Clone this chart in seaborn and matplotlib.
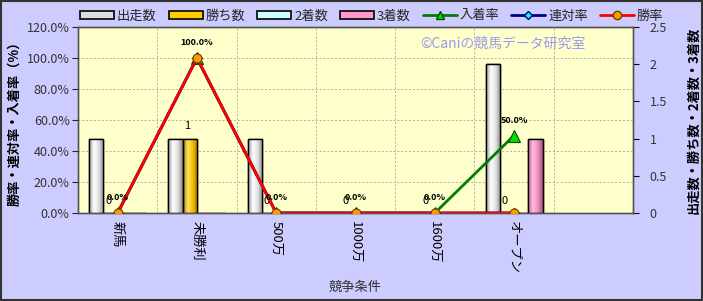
import numpy as np
import pandas as pd
import matplotlib
matplotlib.use("Agg")
import matplotlib.pyplot as plt
import seaborn as sns
from matplotlib.patches import Rectangle
from matplotlib.lines import Line2D
from matplotlib.colors import LinearSegmentedColormap

# ---- data ----
categories = ["新馬", "未勝利", "500万", "1000万", "1600万", "オープン"]
starts = [1, 1, 1, 0, 0, 2]        # 出走数
wins = [0, 1, 0, 0, 0, 0]          # 勝ち数
seconds = [0, 0, 0, 0, 0, 0]       # 2着数
thirds = [0, 0, 0, 0, 0, 1]        # 3着数
place_rate = [0, 100, 0, 0, 0, 50]     # 入着率
rentai_rate = [0, 100, 0, 0, 0, 0]     # 連対率
win_rate = [0, 100, 0, 0, 0, 0]        # 勝率
rate_labels = ["0.0%", "100.0%", "0.0%", "0.0%", "0.0%", "50.0%"]
count_labels = ["0", "1", "0", "0", "0", "0"]

count_series = ["出走数", "勝ち数", "2着数", "3着数"]
bar_colors = {"出走数": "#F4F4F4", "勝ち数": "#FFCC00", "2着数": "#CCFFFF", "3着数": "#FF99CC"}
grad = {"出走数": ["#9A9A9A", "#FFFFFF", "#E0E0E0", "#8A8A8A"],
        "勝ち数": ["#B08800", "#FFE060", "#F0C000", "#A07800"],
        "2着数": ["#80B0B0", "#FFFFFF", "#C8F8F8", "#70A0A0"],
        "3着数": ["#C06090", "#FFC0E0", "#F090C0", "#B05080"]}

sns.set_theme(style="white")
plt.rcParams["font.family"] = ["Noto Sans CJK JP", "DejaVu Sans"]

fig = plt.figure(figsize=(7.03, 3.01), dpi=100, facecolor="#CCCCFF")
ax = fig.add_axes([78/703, 1-213/301, (633-78)/703, (213-27)/301])
ax.set_facecolor("#FFFFCC")
ax2 = ax.twinx()
ax2.set_facecolor("none")

df = pd.DataFrame({
    "cat": categories * 4,
    "series": sum([[s]*len(categories) for s in count_series], []),
    "val": starts + wins + seconds + thirds,
})
sns.barplot(data=df, x="cat", y="val", hue="series", order=categories,
            hue_order=count_series, palette=bar_colors, width=0.72,
            edgecolor="black", linewidth=1.0, ax=ax, legend=False, zorder=3)

# gradient fill for cylinders
for s, container in zip(count_series, ax.containers):
    cmap = LinearSegmentedColormap.from_list(s, grad[s])
    for p in container.patches:
        h = p.get_height()
        if h <= 0:
            continue
        x0, w = p.get_x(), p.get_width()
        img = ax.imshow(np.linspace(0, 1, 64).reshape(1, -1), cmap=cmap, aspect="auto",
                        extent=[x0, x0 + w, 0, h], zorder=3.5, interpolation="bilinear")
        img.set_clip_path(p)
        r = Rectangle((x0, 0), w, h, fill=False, edgecolor="black", linewidth=1.0, zorder=3.6)
        ax.add_patch(r)

ax.set_xlim(-0.5, 6.5)
ax.set_ylim(0, 2.5)
ax.set_yticks([0, 0.5, 1, 1.5, 2, 2.5])
ax.set_yticklabels(["0", "0.5", "1", "1.5", "2", "2.5"])
ax.yaxis.tick_right()
ax.yaxis.set_label_position("right")
ax.set_ylabel("出走数・勝ち数・2着数・3着数", fontsize=9.5, fontweight="bold", labelpad=14, color="black")
ax.set_xticks(range(len(categories)))
ax.set_xticklabels(categories, rotation=-90, fontsize=9.5, color="black")
ax.set_xlabel("競争条件", fontsize=9.5, color="#333333", labelpad=5)
ax.tick_params(axis="y", left=False, right=True, labelleft=False, labelright=True,
               length=4, width=0.8, colors="black", labelsize=9, pad=8)
ax.tick_params(axis="x", length=0, pad=6)
for t in ax.get_yticklabels():
    t.set_color("#333333")

# count labels (勝ち数)
for i, (lbl, v) in enumerate(zip(count_labels, wins)):
    ax.annotate(lbl, (i - 0.12, v), xytext=(0, 9), textcoords="offset points",
                ha="center", va="center", fontsize=8, color="black", zorder=6)

# lines on twin axes
xpos = list(range(len(categories)))
sns.lineplot(x=xpos, y=place_rate, color="#008000", linewidth=2, marker="^", markersize=8,
             markerfacecolor="#00DD00", markeredgecolor="#005000", markeredgewidth=0.8, ax=ax2, zorder=4)
sns.lineplot(x=xpos, y=rentai_rate, color="#000080", linewidth=2, marker="D", markersize=5,
             markerfacecolor="#00FFFF", markeredgecolor="#000080", ax=ax2, zorder=5)
sns.lineplot(x=xpos, y=win_rate, color="#FF0000", linewidth=2, marker="o", markersize=6.5,
             markerfacecolor="#FF9900", markeredgecolor="#664400", markeredgewidth=0.8, ax=ax2, zorder=6)
ax2.set_ylim(0, 120)
ax2.set_xlim(-0.5, 6.5)
ax2.set_yticks(range(0, 121, 20))
ax2.set_yticklabels([f"{v:.1f}%" for v in range(0, 121, 20)])
ax2.yaxis.tick_left()
ax2.yaxis.set_label_position("left")
ax2.set_ylabel("勝率・連対率・入着率（%）", fontsize=9.5, fontweight="bold", labelpad=4, color="black")
ax2.tick_params(axis="y", left=True, right=False, labelleft=True, labelright=False,
                length=4, width=0.8, labelsize=9, pad=2)
for t in ax2.get_yticklabels():
    t.set_color("#333333")

# grid on main axes
for yv in range(20, 121, 20):
    ax.axhline(yv / 120 * 2.5, color="#B0B0B0", linestyle=(0, (2, 2)), linewidth=0.7, zorder=1)
for xv in np.arange(0.5, 6.5, 1):
    ax.axvline(xv, color="#B0B0B0", linestyle=(0, (2, 2)), linewidth=0.7, zorder=1)

for a in (ax, ax2):
    for sp in a.spines.values():
        sp.set_color("#555555")
        sp.set_linewidth(1.0)

# rate labels
for i, (lbl, v) in enumerate(zip(rate_labels, place_rate)):
    ax2.annotate(lbl, (i, v), xytext=(0, 11), textcoords="offset points",
                 ha="center", va="center", fontsize=6.5, fontweight="bold", color="black", zorder=7)

# watermark
ax2.text((503-78)/(633-78), 1-(44-27)/(213-27), "©Caniの競馬データ研究室",
         transform=ax2.transAxes, ha="center", va="center", fontsize=10, color="#9999EE", zorder=2)

# legend
handles = []
for s in count_series:
    handles.append(Rectangle((0, 0), 1, 1, facecolor=bar_colors[s] if s != "出走数" else "#DDDDDD",
                             edgecolor="black", linewidth=1.2))
handles += [
    Line2D([], [], color="#008000", lw=2, marker="^", markersize=6, markerfacecolor="#00DD00", markeredgecolor="#005000"),
    Line2D([], [], color="#000080", lw=2, marker="D", markersize=4, markerfacecolor="#00FFFF", markeredgecolor="#000080"),
    Line2D([], [], color="#FF0000", lw=2, marker="o", markersize=6, markerfacecolor="#FF9900", markeredgecolor="#664400"),
]
labels = count_series + ["入着率", "連対率", "勝率"]
leg = fig.legend(handles, labels, loc="center left", bbox_to_anchor=(80/703, 1-16/301), ncol=7,
                 frameon=False, fontsize=9.5, handlelength=2.6, handleheight=0.5, columnspacing=0.9,
                 handletextpad=0.2, borderaxespad=0, borderpad=0)

# figure border
fig.patches.append(Rectangle((0.001, 0.002), 0.997, 0.996, transform=fig.transFigure,
                             fill=False, edgecolor="#333333", linewidth=1.5))

fig.savefig("out.png", dpi=100, facecolor=fig.get_facecolor())
